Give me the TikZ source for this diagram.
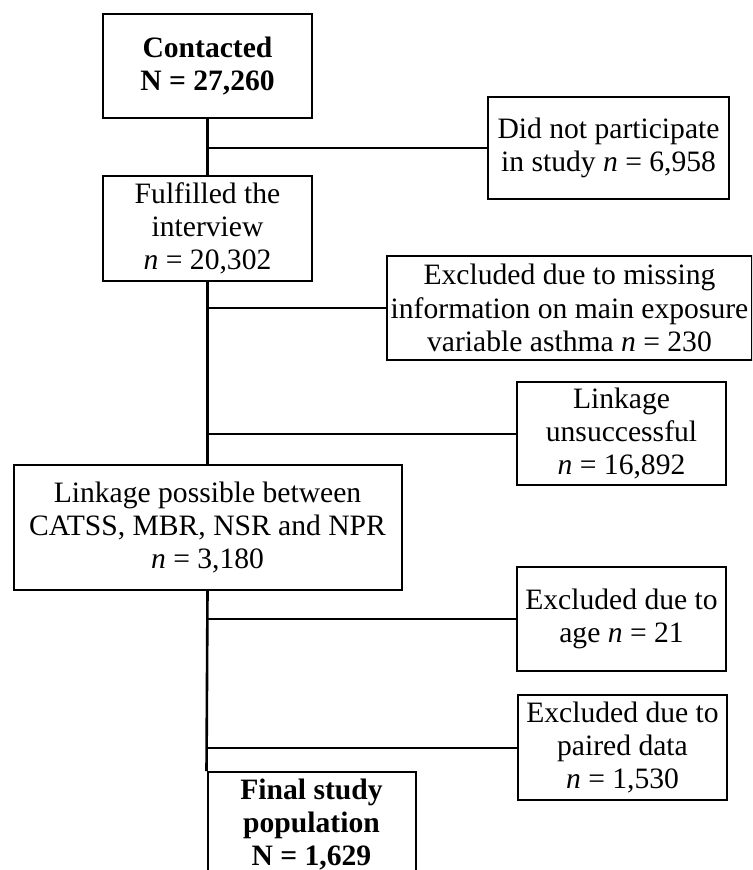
\documentclass[tikz,border=0pt]{standalone}
\usepackage{fontspec}
\setmainfont{Liberation Serif}
\tikzset{
  box/.style={draw, line width=1pt, align=center, inner sep=2pt, font=\fontsize{14.8}{16.6}\selectfont},
  boldbox/.style={box, font=\fontsize{14.8}{16.6}\selectfont\bfseries},
  trunk/.style={line width=1.3pt},
  branch/.style={line width=1pt}
}

\begin{document}
\begin{tikzpicture}[x=0.5pt, y=-0.5pt]
\useasboundingbox (0,0) rectangle (752,870);
\clip (0,0) rectangle (752,870);

% Main column
\node[boldbox, minimum width=104.5pt, minimum height=52pt] (contacted) at (207.5,66) {Contacted\\N = 27,260};
\node[box, minimum width=104.5pt, minimum height=52.5pt] (fulfilled) at (207.5,228.5) {Fulfilled the\\interview\\\textit{n} = 20,302};
\node[box, minimum width=194pt, minimum height=62.5pt] (linkPos) at (207.5,527.5) {Linkage possible between\\CATSS, MBR, NSR and NPR\\\textit{n} = 3,180};
\node[boldbox, minimum width=104pt, minimum height=52.5pt] (final) at (311.5,824.5) {Final study\\population\\N = 1,629};

% Exclusions
\node[box, minimum width=120.5pt, minimum height=51pt] (noPart) at (608.5,148) {Did not participate\\in study \textit{n} = 6,958};
\node[box, minimum width=181pt, minimum height=52pt] (exclMiss) at (569.5,308) {Excluded due to missing\\information on main exposure\\variable asthma \textit{n} = 230};
\node[box, minimum width=104.5pt, minimum height=51.5pt] (linkFail) at (621.5,433.5) {Linkage\\unsuccessful\\\textit{n} = 16,892};
\node[box, minimum width=104.5pt, minimum height=52pt] (age) at (621.5,619) {Excluded due to\\age \textit{n} = 21};
\node[box, minimum width=104.5pt, minimum height=52.5pt] (paired) at (622.5,747.5) {Excluded due to\\paired data\\\textit{n} = 1,530};

% Trunk
\draw[trunk] (contacted) -- (fulfilled);
\draw[trunk] (fulfilled) -- (linkPos);
\draw[trunk] (linkPos.south) -- (final.north west);

% Branches
\draw[branch] (contacted.south |- noPart.west) -- (noPart.west);
\draw[branch] (fulfilled.south |- exclMiss.west) -- (exclMiss.west);
\draw[branch] (fulfilled.south |- linkFail.west) -- (linkFail.west);
\draw[branch] (linkPos.south |- age.west) -- (age.west);
\draw[branch] (linkPos.south |- paired.west) -- (paired.west);

\end{tikzpicture}
\end{document}
